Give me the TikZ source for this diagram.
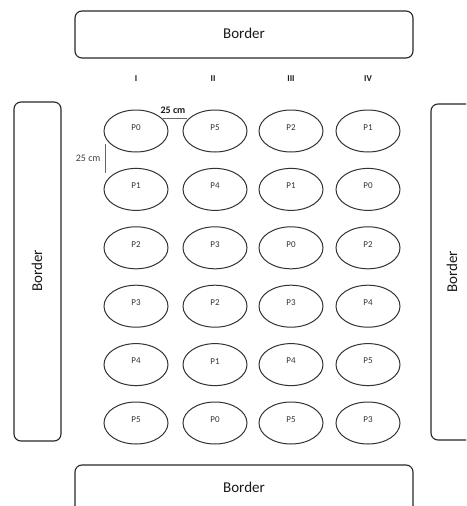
\documentclass[tikz,border=0pt]{standalone}
\usepackage{fontspec}
\setmainfont{Carlito}
\usepackage{tikz}
\usetikzlibrary{positioning,shapes.geometric,calc}

\tikzset{
    wall/.style={draw=black!85,line width=1.1pt,rounded corners=7pt},
    walltext/.style={font=\fontsize{15}{16}\selectfont,text=black!90},
    plot/.style={ellipse,draw=black!80,line width=1pt,minimum width=64pt,minimum height=42pt,
        inner sep=0pt,text depth=7pt,font=\fontsize{9}{10}\selectfont,text=black!80},
    colhead/.style={font=\bfseries\fontsize{9}{10}\selectfont,text=black!90},
    gap/.style={black!60,line width=0.9pt}
}

\begin{document}
\begin{tikzpicture}[x=1pt,y=-1pt]
    \useasboundingbox (0,0) rectangle (466,506);
    \clip (0,0) rectangle (466,506);
    % borders round the field
    \draw[wall] (75,11) rectangle (413,58);
    \node[walltext] (bordertop) at (244,33) {Border};
    \draw[wall] (14,102) rectangle (61,441);
    \node[walltext,rotate=90] (borderleft) at (37,271) {Border};
    \draw[wall] (431,104) rectangle (480,440);
    \node[walltext,rotate=90] (borderright) at (452,272) {Border};
    \draw[wall] (75,465) rectangle (413,530);
    \node[walltext] (borderbottom) at (244,487) {Border};
    % column headings
    \foreach \c/\x in {I/136,II/213,III/291,IV/368} {
        \node[colhead] (head-\c) at (\x,79) {\c};
    }
    % plots, one list per column
    \foreach \col/\x/\plots in {1/136/{0,1,2,3,4,5},2/215/{5,4,3,2,1,0},3/291/{2,1,0,3,4,5},4/368/{1,0,2,4,5,3}} {
        \foreach \p [count=\row] in \plots {
            \pgfmathsetmacro{\y}{131+58.4*(\row-1)}
            \node[plot] (plot-\col-\row) at (\x,\y) {P\p};
        }
    }
    % spacing marks
    \coordinate (hgapL) at ($(plot-1-1.center)+(27,-13)$);
    \coordinate (hgapR) at ($(plot-2-1.center)+(-28,-13)$);
    \draw[gap] (hgapL) -- (hgapR);
    \node[font=\bfseries\fontsize{10}{11}\selectfont,text=black!90,anchor=south] (hgaplabel) at ($(hgapL)!0.5!(hgapR)+(-2,-1)$) {25 cm};
    \coordinate (vgapT) at ($(plot-1-1.center)+(-31,13)$);
    \coordinate (vgapB) at ($(plot-1-2.center)+(-31,-16)$);
    \draw[gap] (vgapT) -- (vgapB);
    \node[font=\fontsize{10}{11}\selectfont,text=black!75,anchor=east] (vgaplabel) at ($(vgapT)!0.5!(vgapB)+(-1,0)$) {25 cm};
\end{tikzpicture}
\end{document}
